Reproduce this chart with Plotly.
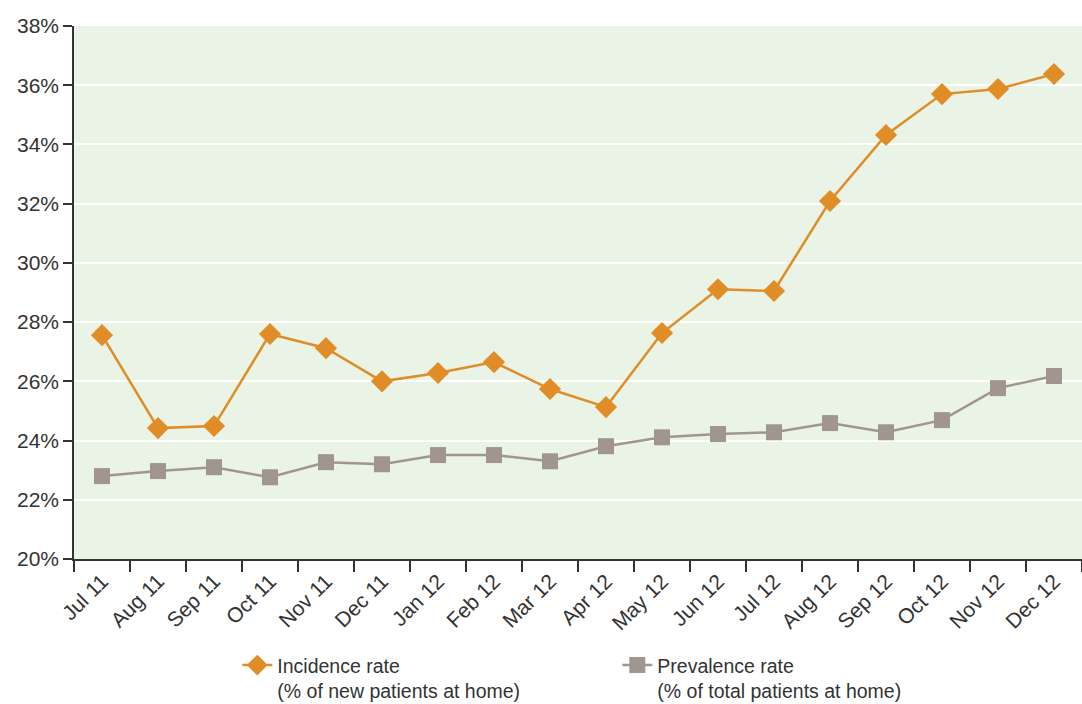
import plotly.graph_objects as go

months = ["Jul 11", "Aug 11", "Sep 11", "Oct 11", "Nov 11", "Dec 11",
          "Jan 12", "Feb 12", "Mar 12", "Apr 12", "May 12", "Jun 12",
          "Jul 12", "Aug 12", "Sep 12", "Oct 12", "Nov 12", "Dec 12"]

incidence = [27.56, 24.42, 24.49, 27.6, 27.12, 26.0,
             26.28, 26.65, 25.74, 25.13, 27.63, 29.11,
             29.05, 32.09, 34.32, 35.7, 35.87, 36.38]

prevalence = [22.8, 22.97, 23.1, 22.76, 23.27, 23.2,
              23.51, 23.51, 23.3, 23.81, 24.11, 24.22,
              24.28, 24.59, 24.28, 24.69, 25.77, 26.18]

y_ticks = [20, 22, 24, 26, 28, 30, 32, 34, 36, 38]

ORANGE = "#E08C27"
GREY = "#A0968F"
TEXT = "#333333"

fig = go.Figure()
fig.add_trace(go.Scatter(
    x=months, y=incidence, mode="lines+markers",
    name="Incidence rate<br>(% of new patients at home)",
    line=dict(color=ORANGE, width=2.5),
    marker=dict(symbol="diamond", size=17, color=ORANGE),
))
fig.add_trace(go.Scatter(
    x=months, y=prevalence, mode="lines+markers",
    name="Prevalence rate<br>(% of total patients at home)",
    line=dict(color=GREY, width=2.5),
    marker=dict(symbol="square", size=16, color=GREY),
))

fig.update_layout(
    width=1082, height=704,
    margin=dict(l=74, r=0, t=26, b=145, autoexpand=False),
    paper_bgcolor="white",
    plot_bgcolor="#E9F3E6",
    font=dict(family="Liberation Sans, Arial, sans-serif", color=TEXT, size=20),
    legend=dict(
        orientation="h", x=0.162, y=-0.163, xanchor="left", yanchor="top",
        valign="top", entrywidth=335, font=dict(size=19.5, color=TEXT),
        itemwidth=30,
    ),
    xaxis=dict(
        type="category", tickson="boundaries", ticks="outside", ticklen=11,
        tickcolor=TEXT, tickwidth=1.5, tickangle=-45, automargin=False,
        showline=True, linecolor=TEXT, linewidth=1.5,
        showgrid=False, tickfont=dict(size=21, color=TEXT),
        range=[-0.5, 17.5],
    ),
    yaxis=dict(
        range=[20, 38], tickvals=y_ticks, automargin=False,
        ticktext=[f"{v}%" for v in y_ticks],
        ticks="outside", ticklen=9, tickcolor=TEXT, tickwidth=1.5,
        showline=True, linecolor=TEXT, linewidth=1.5,
        gridcolor="white", gridwidth=1.5, zeroline=False,
        tickfont=dict(size=21, color=TEXT),
    ),
)

fig.write_html("out.html")
